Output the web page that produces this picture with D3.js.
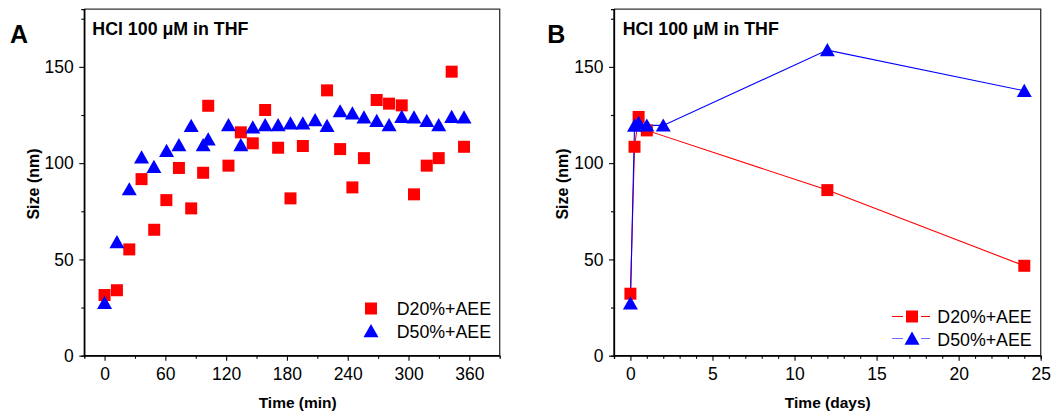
<!DOCTYPE html>
<html><head><meta charset="utf-8">
<script src="https://cdn.jsdelivr.net/npm/d3@7"></script>
<style>body{margin:0;background:#fff} svg{display:block;font-family:"Liberation Sans",Arial,sans-serif}</style>
</head><body><svg id="c" width="1052" height="414"></svg>
<script>
// ---- data ----
const seriesNames = ["D20%+AEE", "D50%+AEE"];
const panelTitle = "HCl 100 \u03bcM in THF";
const panelLetters = ["A", "B"];
const xTitles = ["Time (min)", "Time (days)"];
const yTitle = "Size (nm)";
const yTicks = [0, 50, 100, 150];
const xTicksA = [0, 60, 120, 180, 240, 300, 360];
const xTicksB = [0, 5, 10, 15, 20, 25];

const timeA_D20 = [0, 12.2, 24.4, 36.5, 49, 61, 73.4, 85.5, 97.3, 102.3, 122.3, 134.5, 146.3, 158.5, 171.3, 183.5, 195.7, 219.6, 232.5, 244.6, 256, 268.6, 280.8, 293.3, 305.4, 318, 329.8, 342.6, 354.8];
const sizeA_D20 = [31.5, 34, 55.2, 91.7, 65.4, 80.8, 97.5, 76.5, 95, 129.8, 98.7, 116, 110.3, 127.6, 108, 81.7, 108.9, 137.8, 107.3, 87.4, 102.6, 132.8, 130.9, 130, 83.8, 98.7, 102.6, 147.5, 108.5];
const timeA_D50 = [0, 12.2, 24.4, 36.5, 48.7, 61.2, 73.4, 85.5, 97.3, 102.3, 122.3, 134.5, 146.3, 158.5, 171.3, 183.5, 195.7, 207.8, 219.6, 232.5, 244.6, 256, 268.6, 280.8, 293.3, 305.4, 318, 329.8, 342.6, 354.8];
const sizeA_D50 = [27.5, 59, 86.5, 103, 98.1, 106.4, 109.4, 119.4, 109.4, 112.4, 119.8, 109.4, 118.6, 119.8, 119.8, 120.7, 120.7, 122.4, 119.4, 127, 125.9, 123.8, 122, 119.8, 124.1, 123.8, 122, 119.8, 124.1, 123.8];

const timeB_D20 = [0, 0.25, 0.5, 1, 12, 24];
const sizeB_D20 = [32.2, 108.5, 124, 117, 86, 46.7];
const timeB_D50 = [0, 0.25, 0.5, 1, 2, 12, 24];
const sizeB_D50 = [27.2, 119.5, 121, 119.6, 119.6, 158.7, 137.6];

// ---- drawing ----
const svg = d3.select("#c");
const RED = "#ff0000", BLUE = "#0000ff";
const sqPath = "M-6,-6H6V6H-6Z";
const triPath = "M0,-7L7.5,6.2L-7.5,6.2Z";

function panel(cfg) {
  const x = d3.scaleLinear().domain(cfg.xDomain).range(cfg.xRange);
  const y = d3.scaleLinear().domain([0, 180]).range([355.7, 9.1]);
  const g = svg.append("g");
  const [x0, x1] = cfg.xRange, [y0, y1] = y.range();

  // frame
  g.append("path").attr("d", `M${x0},${y1}H${x1}V${y0}`).attr("fill", "none")
    .attr("stroke", "#333").attr("stroke-width", 1.3);

  // axes
  const fs = "17.5px";
  const ax = g.append("g").attr("transform", `translate(0,${y0})`)
    .call(d3.axisBottom(x).tickValues(cfg.xTicks).tickSize(5).tickPadding(7).tickFormat(d3.format("d")));
  g.append("g").attr("transform", `translate(0,${y0})`)
    .call(d3.axisBottom(x).tickValues(cfg.xMinor).tickSize(3).tickFormat(""));
  const ay = g.append("g").attr("transform", `translate(${x0},0)`)
    .call(d3.axisLeft(y).tickValues(yTicks).tickSize(5).tickPadding(5.5));
  g.append("g").attr("transform", `translate(${x0},0)`)
    .call(d3.axisLeft(y).tickValues([25, 75, 125, 175]).tickSize(3).tickFormat(""));
  g.selectAll(".domain").attr("stroke", "#000").attr("stroke-width", 1.3);
  g.selectAll(".tick line").attr("stroke", "#000").attr("stroke-width", 1.1);
  g.selectAll(".tick text").attr("font-size", fs).attr("font-family", "Liberation Sans, Arial").attr("fill", "#000");
  ax.select(".domain").attr("d", `M${x0},0H${x1}`);
  ay.select(".domain").attr("d", `M0,${y0}V${y1}`);

  // series
  cfg.series.forEach((s) => {
    const pts = s.t.map((t, k) => [x(t), y(s.v[k])]);
    if (cfg.lines) {
      g.append("path").attr("d", d3.line()(pts)).attr("fill", "none")
        .attr("stroke", s.color).attr("stroke-width", 1.1);
    }
  });
  cfg.series.forEach((s) => {
    const pts = s.t.map((t, k) => [x(t), y(s.v[k])]);
    g.selectAll(null).data(pts).enter().append("path")
      .attr("d", s.shape).attr("transform", d => `translate(${d[0]},${d[1]})`)
      .attr("fill", s.color);
  });

  // titles
  g.append("text").attr("x", cfg.titleX).attr("y", 35).attr("font-weight", "bold")
    .attr("font-size", "17.8px").text(panelTitle);
  g.append("text").attr("x", cfg.letterX).attr("y", 43).attr("font-weight", "bold")
    .attr("font-size", "25px").text(cfg.letter);
  g.append("text").attr("x", cfg.xTitleX).attr("y", 408).attr("text-anchor", "middle")
    .attr("font-weight", "bold").attr("font-size", "15.5px").text(cfg.xTitle);
  g.append("text").attr("transform", `translate(${cfg.yTitleX},184) rotate(-90)`)
    .attr("text-anchor", "middle").attr("font-weight", "bold").attr("font-size", "16px").text(yTitle);

  // legend
  const L = cfg.legend;
  cfg.series.forEach((s, i) => {
    const ly = L.y[i];
    if (cfg.lines) {
      const lc = i === 0 ? RED : "#6b6bff";
      g.append("path").attr("d", `M${L.mx - 20},${ly}H${L.mx - 9}M${L.mx + 9},${ly}H${L.mx + 18}`)
        .attr("stroke", lc).attr("stroke-width", 1.1);
    }
    g.append("path").attr("d", s.shape).attr("transform", `translate(${L.mx},${ly})`).attr("fill", s.color);
    g.append("text").attr("x", L.tx).attr("y", L.base[i]).attr("font-size", "17.8px").text(seriesNames[i]);
  });
}

panel({
  xDomain: [-20, 390], xRange: [84.3, 499.7],
  xTicks: xTicksA, xMinor: [30, 90, 150, 210, 270, 330],
  series: [
    { t: timeA_D20, v: sizeA_D20, color: RED, shape: sqPath },
    { t: timeA_D50, v: sizeA_D50, color: BLUE, shape: triPath }
  ],
  lines: false,
  titleX: 92.3, letterX: 10, letter: panelLetters[0],
  xTitle: xTitles[0], xTitleX: 297.7, yTitleX: 38.5,
  legend: { mx: 371, y: [308.5, 331], tx: 396.7, base: [315, 338.3] }
});

panel({
  xDomain: [-1, 25], xRange: [614, 1040.7],
  xTicks: xTicksB, xMinor: d3.range(-1, 25).filter(d => d % 5 !== 0),
  series: [
    { t: timeB_D20, v: sizeB_D20, color: RED, shape: sqPath },
    { t: timeB_D50, v: sizeB_D50, color: BLUE, shape: triPath }
  ],
  lines: true,
  titleX: 622.7, letterX: 547.3, letter: panelLetters[1],
  xTitle: xTitles[1], xTitleX: 827.8, yTitleX: 568,
  legend: { mx: 912, y: [316.5, 338.5], tx: 937.3, base: [323.3, 345.7] }
});
</script></body></html>
